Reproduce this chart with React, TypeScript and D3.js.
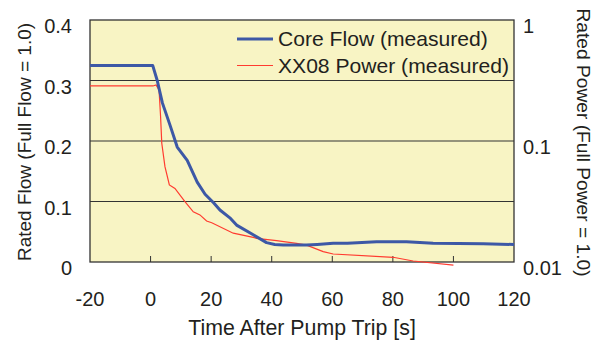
import React from "react";
import * as d3 from "d3";

const flowT = [-20, 0.7, 2.2, 3.9, 6.5, 8.8, 12.1, 15.4, 18.0, 20.8, 22.9, 26.4, 28.4, 33.9, 38.3, 41.0, 43.8, 51.5, 55.0, 60.3, 65.0, 74.6, 84.5, 93.3, 109.8, 120];
const flowV = [0.325, 0.325, 0.30, 0.263, 0.225, 0.19, 0.168, 0.132, 0.112, 0.098, 0.086, 0.072, 0.061, 0.045, 0.032, 0.029, 0.028, 0.028, 0.029, 0.031, 0.031, 0.0335, 0.0335, 0.031, 0.030, 0.029];

const powerT = [-20, 0.8, 1.8, 2.8, 3.3, 3.7, 4.75, 6.2, 8.05, 11.35, 14.1, 16.3, 18.5, 20.2, 27.3, 33.9, 35.0, 41.6, 48.2, 51.5, 57.0, 60.3, 80.1, 86.7, 100];
const powerV = [0.285, 0.285, 0.29, 0.264, 0.16, 0.0957, 0.0614, 0.0433, 0.0406, 0.0315, 0.026, 0.0245, 0.0218, 0.0211, 0.0173, 0.0160, 0.0157, 0.0150, 0.01426, 0.0138, 0.01217, 0.01164, 0.01094, 0.01019, 0.00944];

const xTicks = [-20, 0, 20, 40, 60, 80, 100, 120];
const yTicks = [0, 0.1, 0.2, 0.3, 0.4];
const yTickLabels = ["0", "0.1", "0.2", "0.3", "0.4"];
const rTicks = [1, 0.1, 0.01];
const rTickLabels = ["1", "0.1", "0.01"];
const seriesNames = ["Core Flow (measured)", "XX08 Power (measured)"];

export default function App() {
  const L = 90, R = 514, T = 20, B = 262;
  const x = d3.scaleLinear().domain([-20, 120]).range([L, R]);
  const y = d3.scaleLinear().domain([0, 0.4]).range([B, T]);
  const yr = d3.scaleLog().domain([0.01, 1]).range([B, T]);
  const flowLine = d3.line<number>().x((_, i) => x(flowT[i])).y((v) => y(v));
  const powerLine = d3.line<number>().x((_, i) => x(powerT[i])).y((v) => yr(v));
  const font = "'Liberation Sans', Arial, sans-serif";
  const blue = "#3d58a6";
  const red = "#ff3b30";
  const ink = "#231f20";
  return (
    <svg width={602} height={343} style={{ position: "absolute", left: 0, top: 0 }} fontFamily={font}>
      <rect x={0} y={0} width={602} height={343} fill="#fff" />
      <rect x={L} y={T} width={R - L} height={B - T} fill="#f8f4c4" />
      {yTicks.slice(1, 4).map((t) => (
        <line key={t} x1={L} x2={R} y1={y(t)} y2={y(t)} stroke="#333" strokeWidth={1} />
      ))}
      {xTicks.slice(1, -1).map((t) => (
        <line key={t} x1={x(t)} x2={x(t)} y1={B} y2={B - 6} stroke="#333" strokeWidth={1} />
      ))}
      <rect x={L} y={T} width={R - L} height={B - T} fill="none" stroke="#333" strokeWidth={1.3} />
      <path d={powerLine(powerV) || ""} fill="none" stroke={red} strokeWidth={1.2} />
      <path d={flowLine(flowV) || ""} fill="none" stroke={blue} strokeWidth={3} strokeLinejoin="round" />
      {xTicks.map((t) => (
        <text key={t} x={x(t)} y={306} fontSize={20} textAnchor="middle" fill={ink}>{t}</text>
      ))}
      {yTicks.map((t, i) => (
        <text key={t} x={72} y={y(t) + 13} fontSize={20} textAnchor="end" fill={ink}>{yTickLabels[i]}</text>
      ))}
      {rTicks.map((t, i) => (
        <text key={t} x={523} y={yr(t) + 13} fontSize={20} textAnchor="start" fill={ink}>{rTickLabels[i]}</text>
      ))}
      <text x={(L + R) / 2} y={335} fontSize={21.3} textAnchor="middle" fill={ink}>Time After Pump Trip [s]</text>
      <text transform={`translate(31, 142) rotate(-90)`} fontSize={19} textAnchor="middle" fill={ink}>Rated Flow (Full Flow = 1.0)</text>
      <text transform={`translate(577, 142.5) rotate(90)`} fontSize={19.2} textAnchor="middle" fill={ink}>Rated Power (Full Power = 1.0)</text>
      <line x1={237} x2={273} y1={39} y2={39} stroke={blue} strokeWidth={3} />
      <line x1={237} x2={273} y1={65.5} y2={65.5} stroke={red} strokeWidth={1.2} />
      <text x={278} y={46} fontSize={21.1} fill={ink}>{seriesNames[0]}</text>
      <text x={278} y={73} fontSize={21.1} fill={ink}>{seriesNames[1]}</text>
    </svg>
  );
}
